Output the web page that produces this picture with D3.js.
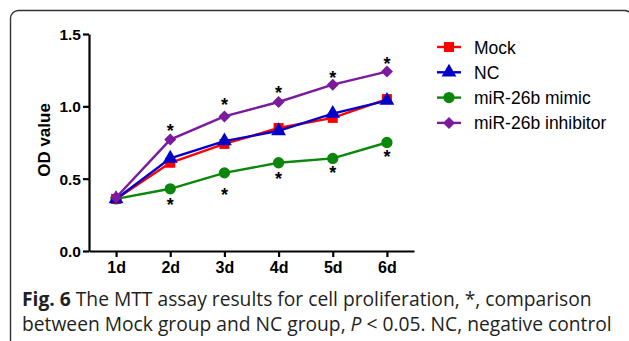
<!DOCTYPE html>
<html>
<head>
<meta charset="utf-8">
<script src="https://cdn.jsdelivr.net/npm/d3@7"></script>
<style>
  body { margin: 0; background: #fff; }
  svg { display: block; }
</style>
</head>
<body>
<div id="chart"></div>
<script>
// ─── DATA ─────────────────────────────────────────────
const days = ["1d", "2d", "3d", "4d", "5d", "6d"];
const yTicks = [0.0, 0.5, 1.0, 1.5];

const mockValues      = [0.36, 0.61, 0.74, 0.85, 0.92, 1.05];
const ncValues        = [0.36, 0.64, 0.76, 0.83, 0.95, 1.04];
const mimicValues     = [0.36, 0.43, 0.54, 0.61, 0.64, 0.75];
const inhibitorValues = [0.37, 0.77, 0.93, 1.03, 1.15, 1.24];

// asterisk positions (in OD units), null = no star
const inhibitorStars = [null, 0.86, 1.04, 1.12, 1.23, 1.32];
const mimicStars     = [null, 0.35, 0.42, 0.53, 0.57, 0.68];

const seriesNames = ["Mock", "NC", "miR-26b mimic", "miR-26b inhibitor"];

const width = 629, height = 341;

const svg = d3.select("#chart").append("svg")
    .attr("width", width)
    .attr("height", height);

// frame with rounded corner (bottom/right run off the picture)
svg.append("rect")
    .attr("x", 10.5).attr("y", 10.5)
    .attr("width", 622).attr("height", 345)
    .attr("rx", 8)
    .attr("fill", "none")
    .attr("stroke", "#333")
    .attr("stroke-width", 1.4);

const x = d3.scalePoint().domain(days).range([89, 414]).padding(0.5);
const y = d3.scaleLinear().domain([0, 1.5]).range([251, 34]);

// ─── AXES ─────────────────────────────────────────────
const yAxis = svg.append("g")
    .attr("transform", "translate(89,0)")
    .call(d3.axisLeft(y).tickValues(yTicks).tickFormat(d3.format(".1f")).tickSize(6).tickSizeOuter(0));

const xAxis = svg.append("g")
    .attr("transform", "translate(0,251)")
    .call(d3.axisBottom(x).tickSize(6).tickSizeOuter(0));

[yAxis, xAxis].forEach(g => {
    g.select(".domain").attr("stroke", "#000").attr("stroke-width", 2.2);
    g.selectAll(".tick line").attr("stroke", "#000").attr("stroke-width", 2.2);
    g.selectAll(".tick text")
        .attr("fill", "#000")
        .style("font-family", "Liberation Sans, Arial, sans-serif")
        .style("font-weight", "bold");
});
yAxis.selectAll(".tick text").style("font-size", "15.5px").attr("x", -8).attr("dy", "0.36em");
xAxis.selectAll(".tick text").style("font-size", "16px").attr("y", 10).attr("dy", "0.74em");

svg.append("text")
    .attr("transform", "translate(50,140) rotate(-90)")
    .attr("text-anchor", "middle")
    .style("font-family", "Liberation Sans, Arial, sans-serif")
    .style("font-weight", "bold")
    .style("font-size", "17px")
    .text("OD value");

// ─── SERIES ───────────────────────────────────────────
// diamond = square turned by 45 degrees
const series = [
    { name: seriesNames[2], values: mimicValues,     color: "#0a870a", symbol: d3.symbolCircle,   size: 100, rot: 0 },
    { name: seriesNames[0], values: mockValues,      color: "#ff0000", symbol: d3.symbolSquare,   size: 100, rot: 0 },
    { name: seriesNames[1], values: ncValues,        color: "#0000c8", symbol: d3.symbolTriangle, size: 95,  rot: 0 },
    { name: seriesNames[3], values: inhibitorValues, color: "#7b1a9c", symbol: d3.symbolSquare,   size: 72,  rot: 45 }
];

const line = d3.line()
    .x((d, i) => x(days[i]))
    .y(d => y(d));

series.forEach(s => {
    const g = svg.append("g");
    g.append("path")
        .attr("d", line(s.values))
        .attr("fill", "none")
        .attr("stroke", s.color)
        .attr("stroke-width", 2.4);
    g.selectAll("path.pt")
        .data(s.values)
        .enter().append("path")
        .attr("class", "pt")
        .attr("transform", (d, i) => `translate(${x(days[i])},${y(d)}) rotate(${s.rot})`)
        .attr("d", d3.symbol().type(s.symbol).size(s.size))
        .attr("fill", s.color);
});

// asterisks
const starFont = 18;
[inhibitorStars, mimicStars].forEach(stars => {
    svg.append("g").selectAll("text")
        .data(stars.map((v, i) => ({ v, day: days[i] })).filter(d => d.v !== null))
        .enter().append("text")
        .attr("x", d => x(d.day))
        .attr("y", d => y(d.v) + starFont * 0.58)
        .attr("text-anchor", "middle")
        .style("font-family", "Liberation Sans, Arial, sans-serif")
        .style("font-weight", "bold")
        .style("font-size", starFont + "px")
        .text("*");
});

// ─── LEGEND ───────────────────────────────────────────
const legendOrder = [series[1], series[2], series[0], series[3]];
const legend = svg.append("g").attr("transform", "translate(437,47)");
legendOrder.forEach((s, i) => {
    const row = legend.append("g").attr("transform", `translate(0,${i * 25.3})`);
    row.append("line")
        .attr("x1", 0).attr("x2", 24)
        .attr("stroke", s.color).attr("stroke-width", 2.4);
    row.append("path")
        .attr("transform", `translate(12,0) rotate(${s.rot})`)
        .attr("d", d3.symbol().type(s.symbol).size(s.size))
        .attr("fill", s.color);
    row.append("text")
        .attr("x", 37).attr("y", 6.5)
        .style("font-family", "Liberation Sans, Arial, sans-serif")
        .style("font-size", "17.5px")
        .text(s.name);
});

// ─── CAPTION ──────────────────────────────────────────
const cap = svg.append("g")
    .style("font-family", "Open Sans, Noto Sans, sans-serif")
    .attr("fill", "#231f20");
const line1 = cap.append("text").attr("x", 22).attr("y", 306);
line1.append("tspan").style("font-weight", "bold").text("Fig. 6");
line1.append("tspan").text(" The MTT assay results for cell proliferation, *, comparison");
const line2 = cap.append("text").attr("x", 22).attr("y", 331);
line2.append("tspan").text("between Mock group and NC group, ");
line2.append("tspan").style("font-style", "italic").text("P");
line2.append("tspan").text(" < 0.05. NC, negative control");

// fit caption to the printed width
let fs = 18;
cap.style("font-size", fs + "px");
const w2 = line2.node().getComputedTextLength();
fs = fs * 590 / w2;
cap.style("font-size", fs.toFixed(2) + "px");
</script>
</body>
</html>
